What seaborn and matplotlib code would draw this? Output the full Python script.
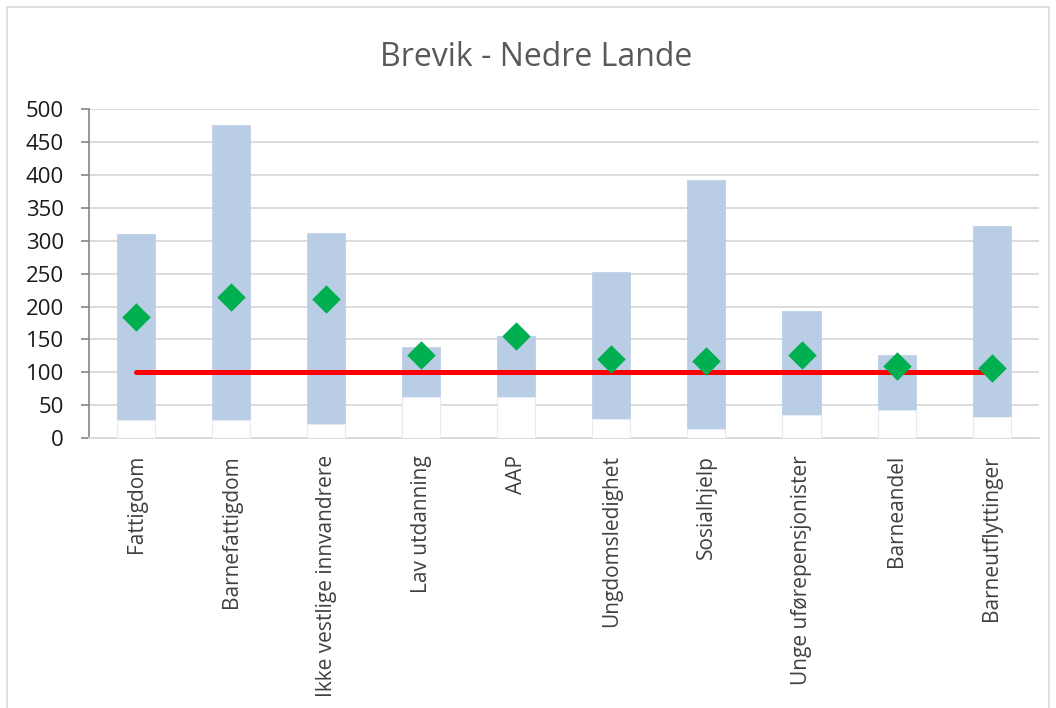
import numpy as np
import pandas as pd
import matplotlib
matplotlib.use("Agg")
import matplotlib.pyplot as plt
from matplotlib.patches import Rectangle
import seaborn as sns

# Indicator names
categories = [
    "Fattigdom",
    "Barnefattigdom",
    "Ikke vestlige innvandrere",
    "Lav utdanning",
    "AAP",
    "Ungdomsledighet",
    "Sosialhjelp",
    "Unge uførepensjonister",
    "Barneandel",
    "Barneutflyttinger",
]
# Lowest and highest index across areas, and the value for this area
range_min = [27, 28, 22, 62, 62, 29, 14, 36, 43, 33]
range_max = [310, 476, 311, 138, 155, 252, 392, 194, 127, 323]
area_value = [184, 215, 212, 126, 155, 121, 117, 126, 110, 106]
# National reference level
reference = [100] * len(categories)

yticks = [0, 50, 100, 150, 200, 250, 300, 350, 400, 450, 500]

df = pd.DataFrame({
    "kategori": categories,
    "min": range_min,
    "max": range_max,
    "verdi": area_value,
    "ref": reference,
})

sns.set_theme(style="white")
plt.rcParams["font.family"] = ["Open Sans", "DejaVu Sans"]

fig = plt.figure(figsize=(10.56, 7.08), dpi=100)
ax = fig.add_axes([0.084, 0.381, 0.900, 0.465])

# Outer chart frame
fig.patches.append(Rectangle((7 / 1056, -0.01), 1042 / 1056, 1 - 7 / 708 + 0.01,
                             transform=fig.transFigure, fill=False,
                             edgecolor="#d9d9d9", linewidth=1.2, zorder=0))

# Full-height range bars, then white bars masking the part below the minimum
sns.barplot(data=df, x="kategori", y="max", order=categories, color="#b9cde5",
            saturation=1, width=0.4, edgecolor="#b9cde5", linewidth=0.5, ax=ax, zorder=2)
sns.barplot(data=df, x="kategori", y="min", order=categories, color="white",
            saturation=1, width=0.4, edgecolor="#e6ecf5", linewidth=0.8, ax=ax, zorder=3)

# Reference line at 100
sns.lineplot(x=np.arange(len(categories)), y=df["ref"], color="#ff0000",
             linewidth=3.6, ax=ax, zorder=4, solid_capstyle="round")

# Area values as diamonds
sns.scatterplot(x=np.arange(len(categories)), y=df["verdi"], marker="D", s=14.5 ** 2,
                color="#00b050", edgecolor="#00b050", linewidth=0, ax=ax, zorder=5)

ax.set_xlim(-0.5, len(categories) - 0.5)
ax.set_ylim(0, 500)
ax.set_yticks(yticks)
ax.set_yticklabels([str(t) for t in yticks], fontsize=16, color="#1a1a1a")
ax.set_xticks(np.arange(len(categories)))
ax.set_xticklabels(categories, rotation=90, fontsize=15, color="#404040")
ax.set_xlabel("")
ax.set_ylabel("")

ax.set_axisbelow(True)
ax.yaxis.grid(True, color="#d9d9d9", linewidth=1.3)
ax.xaxis.grid(False)

for side in ["top", "right"]:
    ax.spines[side].set_visible(False)
ax.spines["left"].set_color("#868686")
ax.spines["left"].set_linewidth(1.2)
ax.spines["bottom"].set_color("#d9d9d9")
ax.spines["bottom"].set_linewidth(1.3)
ax.tick_params(axis="y", which="major", left=True, length=5.5, width=1.2,
               color="#868686", pad=12.5)
ax.tick_params(axis="x", which="major", bottom=False, length=0, pad=12)

fig.text(0.508, 0.919, "Brevik - Nedre Lande", ha="center", va="center",
         fontsize=23, color="#595959")

fig.savefig("out.png", dpi=100, facecolor="white")
